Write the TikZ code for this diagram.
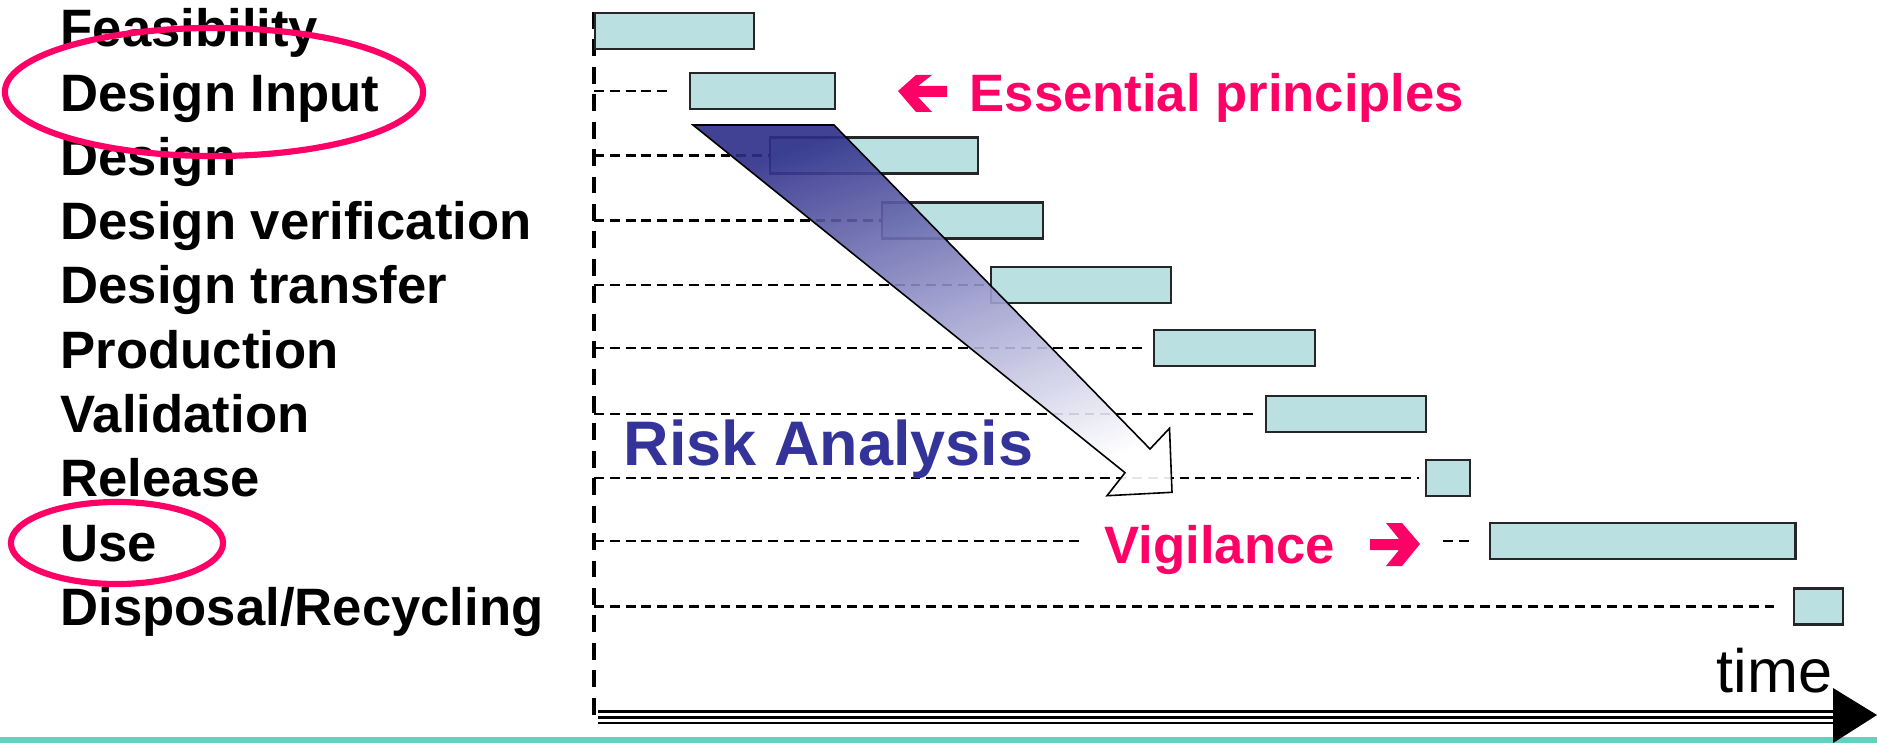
\documentclass[tikz,border=0pt]{standalone}
\usepackage{fontspec}
\setmainfont{Liberation Sans}
\definecolor{barfill}{HTML}{BAE0E2}
\definecolor{hotpink}{HTML}{FF0066}
\definecolor{riskblue}{HTML}{333399}
\definecolor{teal}{HTML}{66CFBE}
\begin{document}
\begin{tikzpicture}[x=0.01cm,y=-0.01cm,
  lab/.style={anchor=base west, inner sep=0, font=\fontsize{14.97}{18}\selectfont\bfseries},
  bar/.style={draw=black!85, line width=0.65pt, fill=barfill, inner sep=0, minimum height=0.36cm, anchor=west},
  hdash/.style={line width=0.6pt, dash pattern=on 2.8pt off 1.7pt},
  vdash/.style={line width=1.05pt, dash pattern=on 4.8pt off 3pt},
  ring/.style={draw=hotpink, line width=1.75pt},
  pinktxt/.style={anchor=base west, inner sep=0, text=hotpink, font=\fontsize{14.97}{18}\selectfont\bfseries}
]
\useasboundingbox (0,0) rectangle (1877,743);

% bottom teal band
\fill[teal] (0,736.5) rectangle (1877,743);

% labels
\node[lab] (l0) at (60,47) {Feasibility};
\node[lab] (l1) at (60,111.3) {Design Input};
\node[lab] (l2) at (60,175.5) {Design};
\node[lab] (l3) at (60,239.8) {Design verification};
\node[lab] (l4) at (60,304) {Design transfer};
\node[lab] (l5) at (60,368.3) {Production};
\node[lab] (l6) at (60,432.6) {Validation};
\node[lab] (l7) at (60,496.8) {Release};
\node[lab] (l8) at (60,561.1) {Use};
\node[lab] (l9) at (60,625.3) {Disposal/Recycling};

% vertical dashed axis
\coordinate (vtop) at (594,12);
\coordinate (vbot) at (594,724);
\draw[vdash] (vtop) -- (vbot);

% bars
\node[bar, minimum width=1.59cm] (b0) at (594,31) {};
\node[bar, minimum width=1.45cm] (b1) at (689,91) {};
\node[bar, minimum width=2.08cm] (b2) at (769,155.5) {};
\node[bar, minimum width=1.61cm] (b3) at (881,220.5) {};
\node[bar, minimum width=1.80cm] (b4) at (990,285) {};
\node[bar, minimum width=1.61cm] (b5) at (1153,348) {};
\node[bar, minimum width=1.60cm] (b6) at (1265,414) {};
\node[bar, minimum width=0.44cm] (b7) at (1425,478) {};
\node[bar, minimum width=3.05cm] (b8) at (1489,541) {};
\node[bar, minimum width=0.49cm] (b9) at (1793,606.5) {};

% horizontal dashed guides
\coordinate (s1) at (594,91);    \coordinate (e1) at (669,91);
\coordinate (s2) at (594,155.5);
\coordinate (s3) at (594,220.5);
\coordinate (s4) at (594,285);
\coordinate (s5) at (594,348);   \coordinate (e5) at (1145,348);
\coordinate (s6) at (594,414);   \coordinate (e6) at (1257,414);
\coordinate (s7) at (594,478);   \coordinate (e7) at (1419,478);
\coordinate (s8) at (594,541);   \coordinate (e8) at (1082,541);
\coordinate (s8b) at (1443,541); \coordinate (e8b) at (1472,541);
\coordinate (s9) at (594,606.5); \coordinate (e9) at (1774,606.5);
\draw[hdash] (s1) -- (e1);
\draw[hdash] (s2) -- (b2.west);
\draw[hdash] (s3) -- (b3.west);
\draw[hdash] (s4) -- (b4.west);
\draw[hdash] (s5) -- (e5);
\draw[hdash] (s6) -- (e6);
\draw[hdash] (s7) -- (e7);
\draw[hdash] (s8) -- (e8);
\draw[hdash] (s8b) -- (e8b);
\draw[hdash] (s9) -- (e9);

% big risk arrow
\shade[fill opacity=0.9, top color=riskblue!90!black, bottom color=white, middle color=riskblue!50, shading angle=20]
  (693,125) -- (834,125) -- (1150,449) -- (1169.5,428.3) -- (1172,492.3) -- (1107,495.7) -- (1125,472.7) -- cycle;
\draw[line width=0.45pt, line join=miter]
  (693,125) -- (834,125) -- (1150,449) -- (1169.5,428.3) -- (1172,492.3) -- (1107,495.7) -- (1125,472.7) -- cycle;

% texts
\node[anchor=base west, inner sep=0, text=riskblue, font=\fontsize{17.9}{20}\selectfont\bfseries] (risk) at (623,465) {Risk Analysis};
\node[pinktxt] (ess) at (969,111.7) {Essential principles};
\node[pinktxt] (vig) at (1104,563) {Vigilance};

% pink block arrows
\fill[hotpink] (898,91) -- (916,75) -- (932,75) -- (918,86) -- (947,86) -- (947,97) -- (918,97) -- (932,112) -- (916,112) -- cycle;
\fill[hotpink] (1420,544) -- (1402,523) -- (1386,523) -- (1399,539) -- (1370,539) -- (1370,550) -- (1399,550) -- (1386,566) -- (1402,566) -- cycle;

% ellipses
\draw[ring] (214,92) ellipse [x radius=2.09cm, y radius=0.64cm];
\draw[ring] (117,543) ellipse [x radius=1.06cm, y radius=0.41cm];

% time axis
\coordinate (t0) at (598,717.3);
\coordinate (t1) at (1834,717.3);
\draw[line width=0.14cm] (t0) -- (t1);
\draw[white, line width=0.088cm] (t0) -- (t1);
\draw[line width=0.025cm] (t0) -- (t1);
\fill (1833,688) -- (1877,715) -- (1833,743) -- cycle;
\node[anchor=base east, inner sep=0, font=\fontsize{17.4}{20}\selectfont] (time) at (1833,692) {time};
\end{tikzpicture}
\end{document}
